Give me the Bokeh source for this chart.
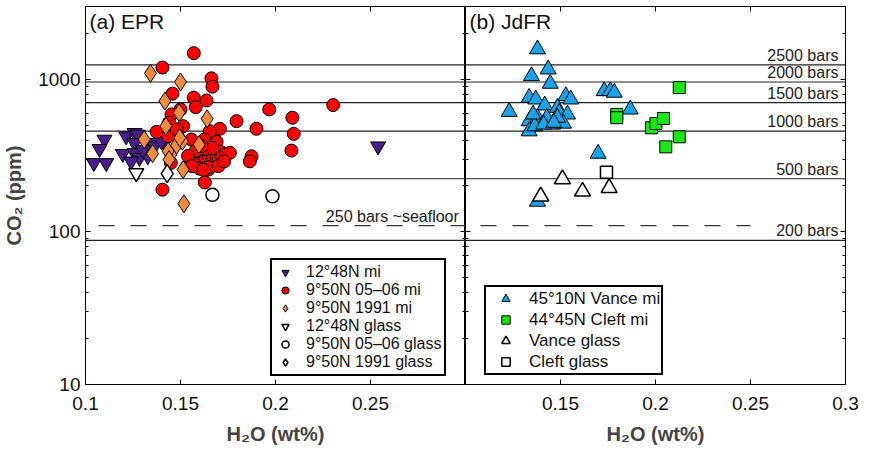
from bokeh.plotting import figure
from bokeh.models import Span, LinearAxis, LogAxis, FixedTicker, Label, Range1d
from bokeh.layouts import row
from bokeh.embed import file_html
from bokeh.resources import INLINE

# ---------------- data ----------------
# (a) EPR
epr1248_mi_h2o = [0.1100, 0.1074, 0.1044, 0.1109, 0.1214, 0.1258, 0.1275, 0.1258, 0.1196, 0.1258,
                  0.1284, 0.1240, 0.1337, 0.1363, 0.1416, 0.1328, 0.1302, 0.1400, 0.2540]
epr1248_mi_co2 = [403, 350, 283, 283, 424, 446, 435, 383, 325, 329,
                  306, 290, 383, 364, 383, 313, 346, 393, 364]

epr950_0506_mi_h2o = [0.1570, 0.1405, 0.1663, 0.1668, 0.1458, 0.1570, 0.1637, 0.1580, 0.2304, 0.1967,
                      0.2089, 0.1795, 0.1900, 0.2096, 0.2084, 0.1874, 0.1865, 0.1374, 0.1628, 0.1405,
                      0.1707, 0.1514, 0.1453, 0.1500, 0.1449, 0.1654, 0.1558, 0.1646, 0.1440, 0.1435,
                      0.1626, 0.1690, 0.1480,
                      0.155, 0.157, 0.158, 0.159, 0.160, 0.161, 0.162, 0.163, 0.164, 0.165,
                      0.166, 0.167, 0.168, 0.169, 0.170, 0.171, 0.172, 0.174, 0.176, 0.163,
                      0.160, 0.165, 0.158, 0.154, 0.167, 0.161, 0.170, 0.173, 0.156, 0.162]
epr950_0506_mi_co2 = [1483, 1194, 1015, 895, 805, 758, 727, 657, 678, 635,
                      560, 532, 474, 439, 341, 313, 290, 453, 211, 189,
                      474, 493, 589, 635, 283, 457, 403, 256, 521, 424,
                      403, 390, 470,
                      300, 290, 320, 275, 305, 285, 330, 295, 270, 310,
                      340, 300, 280, 320, 295, 335, 310, 325, 330, 350,
                      260, 265, 340, 315, 355, 365, 270, 290, 270, 255]

epr950_1991_mi_h2o = [0.1342, 0.1500, 0.1418, 0.1493, 0.1640, 0.1423, 0.1309, 0.1475, 0.1510, 0.1598,
                      0.1353, 0.1449, 0.1514, 0.1518, 0.1496, 0.1435, 0.1440]
epr950_1991_mi_co2 = [1095, 960, 720, 604, 551, 493, 403, 364, 393, 373,
                      326, 321, 256, 153, 413, 338, 298]

epr1248_gl_h2o = [0.1267]
epr1248_gl_co2 = [243]
epr950_0506_gl_h2o = [0.1668, 0.1984]
epr950_0506_gl_co2 = [175, 171]
epr950_1991_gl_h2o = [0.1430]
epr950_1991_gl_co2 = [241]

# (b) JdFR
vance_mi_h2o = [0.1379, 0.1435, 0.1347, 0.1446, 0.1335, 0.1370, 0.1528, 0.1554, 0.1230, 0.1417,
                0.1484, 0.1493, 0.1537, 0.1335, 0.1379, 0.1428, 0.1458, 0.1516, 0.1335, 0.1365,
                0.1411, 0.1730, 0.1762, 0.1783, 0.1867, 0.1698, 0.1379, 0.1356, 0.1484, 0.1465]
vance_mi_co2 = [1575, 1163, 1051, 937, 758, 739, 777, 739, 613, 675,
                651, 604, 589, 532, 560, 560, 506, 513, 457, 493,
                506, 838, 838, 818, 635, 326, 158, 589, 560, 520]
cleft_mi_h2o = [0.2125, 0.1796, 0.1796, 0.1979, 0.2002, 0.2042, 0.2125, 0.2054]
cleft_mi_co2 = [882, 589, 560, 481, 513, 554, 420, 361]
vance_gl_h2o = [0.1510, 0.1616, 0.1756, 0.1396]
vance_gl_co2 = [222, 184, 194, 171]
cleft_gl_h2o = [0.1742]
cleft_gl_co2 = [246]

# isobars (CO2 ppm for given pressure)
isobar_bars = [200, 500, 1000, 1500, 2000, 2500]
isobar_co2 = [88, 223, 457, 703, 960, 1242]
seafloor_bars = 250
seafloor_co2 = 110

x_ticks = [0.1, 0.15, 0.2, 0.25, 0.3]
x_tick_labels = ["0.1", "0.15", "0.2", "0.25", "0.3"]
y_ticks = [10, 100, 1000]
y_tick_labels = ["10", "100", "1000"]

XMIN, XMAX = 0.1, 0.3
YMIN, YMAX = 10, 3000

FONT = "Liberation Sans"
LINE_COL = "#222222"

y_minor = [m * d for d in (10, 100, 1000) for m in range(2, 10) if m * d <= YMAX]


def style_axis(ax, labels, show_labels=True):
    ax.major_tick_in = 5
    ax.major_tick_out = 0
    ax.minor_tick_in = 3
    ax.minor_tick_out = 0
    ax.axis_line_color = "black"
    ax.major_tick_line_color = "black"
    ax.minor_tick_line_color = "black"
    ax.major_label_text_font = FONT
    ax.major_label_text_color = "#111111"
    ax.major_label_overrides = labels
    if show_labels:
        ax.major_label_text_font_size = "19px"
    else:
        ax.major_label_text_font_size = "1px"
        ax.major_label_text_alpha = 0
        ax.major_label_standoff = 0


def make_fig(left):
    p = figure(x_range=Range1d(XMIN, XMAX), y_range=Range1d(YMIN, YMAX), y_axis_type="log",
               frame_width=380, frame_height=378, output_backend="svg", toolbar_location=None,
               min_border_left=83 if left else 0, min_border_right=0 if left else 16,
               min_border_top=6, min_border_bottom=40)
    p.grid.visible = False
    p.outline_line_color = "black"
    p.outline_line_width = 1
    p.background_fill_color = "white"
    p.border_fill_color = "white"

    xlab = {t: (lab if ((left and t != 0.3) or ((not left) and t != 0.1)) else " ")
            for t, lab in zip(x_ticks, x_tick_labels)}
    ylab = {t: lab for t, lab in zip(y_ticks, y_tick_labels)}

    p.xaxis.ticker = FixedTicker(ticks=x_ticks, minor_ticks=[])
    style_axis(p.xaxis[0], xlab)
    p.xaxis.major_label_standoff = 8
    p.xaxis.axis_label = "H₂O (wt%)"
    p.xaxis.axis_label_text_font = FONT
    p.xaxis.axis_label_text_font_style = "bold"
    p.xaxis.axis_label_text_font_size = "20px"
    p.xaxis.axis_label_standoff = 6

    p.yaxis.ticker = FixedTicker(ticks=y_ticks, minor_ticks=y_minor)
    style_axis(p.yaxis[0], ylab, show_labels=left)
    if left:
        p.yaxis.major_label_standoff = 5
        p.yaxis.axis_label = "CO₂ (ppm)"
        p.yaxis.axis_label_text_font = FONT
        p.yaxis.axis_label_text_font_style = "bold"
        p.yaxis.axis_label_text_font_size = "20px"
        p.yaxis.axis_label_standoff = 10

    top = LinearAxis(ticker=FixedTicker(ticks=x_ticks, minor_ticks=[]))
    style_axis(top, xlab, show_labels=False)
    p.add_layout(top, "above")
    right = LogAxis(ticker=FixedTicker(ticks=y_ticks, minor_ticks=y_minor))
    style_axis(right, ylab, show_labels=False)
    p.add_layout(right, "right")

    for c in isobar_co2:
        p.add_layout(Span(location=c, dimension="width", line_color=LINE_COL,
                          line_width=1.2, level="underlay"))
    return p


# ---------------- (a) EPR ----------------
pa = make_fig(True)
pa.line([XMIN, XMAX], [seafloor_co2, seafloor_co2], line_color="#333333", line_width=1.2,
        line_dash="16 16", line_dash_offset=19, level="underlay")
pa.add_layout(Label(x=0.2965, y=seafloor_co2, text=f"{seafloor_bars} bars ~seafloor",
                    text_align="right", text_baseline="bottom", y_offset=1,
                    text_font=FONT, text_font_size="16px", text_color="#222222"))
pa.add_layout(Label(x=XMIN, y=YMAX, x_offset=4, y_offset=-3, text="(a) EPR",
                    text_align="left", text_baseline="top",
                    text_font=FONT, text_font_size="21px", text_color="#111111"))

pa.scatter(epr1248_mi_h2o, epr1248_mi_co2, marker="inverted_triangle", size=15,
           fill_color="#4B1C8C", line_color="black", legend_label="12°48N mi")
pa.scatter(epr950_0506_mi_h2o, epr950_0506_mi_co2, marker="circle", size=13,
           fill_color="#FF0000", line_color="black", legend_label="9°50N 05–06 mi")
pa.scatter(epr950_1991_mi_h2o, epr950_1991_mi_co2, marker="diamond", size=18,
           fill_color="#F48A3C", line_color="black", legend_label="9°50N 1991 mi")
pa.scatter(epr1248_gl_h2o, epr1248_gl_co2, marker="inverted_triangle", size=15,
           fill_color="white", line_color="black", line_width=1.5, legend_label="12°48N glass")
pa.scatter(epr950_0506_gl_h2o, epr950_0506_gl_co2, marker="circle", size=13,
           fill_color="white", line_color="black", line_width=1.5, legend_label="9°50N 05–06 glass")
pa.scatter(epr950_1991_gl_h2o, epr950_1991_gl_co2, marker="diamond", size=18,
           fill_color="white", line_color="black", line_width=1.5, legend_label="9°50N 1991 glass")

# ---------------- (b) JdFR ----------------
pb = make_fig(False)
pb.line([XMIN, 0.25], [seafloor_co2, seafloor_co2], line_color="#333333", line_width=1.2,
        line_dash="16 16", line_dash_offset=17, level="underlay")
for b, c in zip(isobar_bars, isobar_co2):
    pb.add_layout(Label(x=0.2963, y=c, text=f"{b} bars", text_align="right",
                        text_baseline="bottom", y_offset=1,
                        text_font=FONT, text_font_size="16px", text_color="#222222"))
pb.add_layout(Label(x=XMIN, y=YMAX, x_offset=4, y_offset=-3, text="(b) JdFR",
                    text_align="left", text_baseline="top",
                    text_font=FONT, text_font_size="21px", text_color="#111111"))

pb.scatter(vance_mi_h2o, vance_mi_co2, marker="triangle", size=16,
           fill_color="#1AA3E8", line_color="black", legend_label="45°10N Vance mi")
pb.scatter(cleft_mi_h2o, cleft_mi_co2, marker="square", size=12,
           fill_color="#18E818", line_color="black", legend_label="44°45N Cleft mi")
pb.scatter(vance_gl_h2o, vance_gl_co2, marker="triangle", size=16,
           fill_color="white", line_color="black", line_width=1.5, legend_label="Vance glass")
pb.scatter(cleft_gl_h2o, cleft_gl_co2, marker="square", size=12,
           fill_color="white", line_color="black", line_width=1.5, legend_label="Cleft glass")


def style_legend(p, loc, pad, gw, gh, standoff, fsize):
    lg = p.legend[0]
    lg.location = loc
    lg.padding = pad
    lg.margin = 0
    lg.glyph_width = gw
    lg.glyph_height = gh
    lg.label_height = gh
    lg.spacing = 0
    lg.label_standoff = standoff
    lg.label_text_font = FONT
    lg.label_text_font_size = fsize
    lg.label_text_color = "#111111"
    lg.border_line_color = "black"
    lg.border_line_alpha = 1.0
    lg.border_line_width = 2
    lg.background_fill_color = "white"
    lg.background_fill_alpha = 1.0


style_legend(pa, (185, 8), 3, 20, 18, 11, "16px")
style_legend(pb, (19, 9), 1, 37, 21, 5, "17px")

layout = row(pa, pb)
open("out.html", "w").write(file_html(layout, INLINE))
